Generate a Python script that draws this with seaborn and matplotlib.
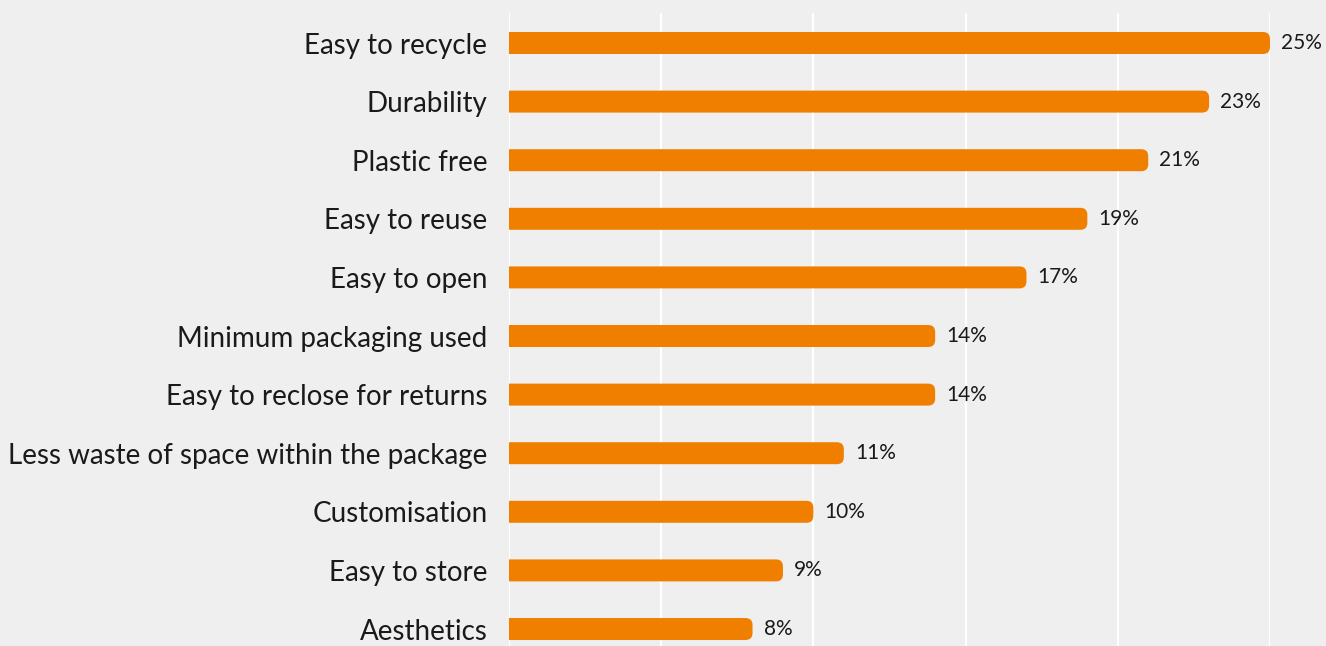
import matplotlib
matplotlib.use("Agg")
import matplotlib.pyplot as plt
from matplotlib.patches import FancyBboxPatch
import seaborn as sns
import pandas as pd

features = [
    "Easy to recycle",
    "Durability",
    "Plastic free",
    "Easy to reuse",
    "Easy to open",
    "Minimum packaging used",
    "Easy to reclose for returns",
    "Less waste of space within the package",
    "Customisation",
    "Easy to store",
    "Aesthetics",
]
shares = [25, 23, 21, 19, 17, 14, 14, 11, 10, 9, 8]
grid_ticks = [0, 5, 10, 15, 20, 25]

ORANGE = "#f07f00"
BG = "#efefef"
TEXT = "#1a1a1a"

sns.set_theme(style="white")
plt.rcParams["font.family"] = ["Lato", "DejaVu Sans"]

W, H = 1326, 646
fig = plt.figure(figsize=(W / 100, H / 100), dpi=100, facecolor=BG)
ax = fig.add_axes([509 / W, 0, (1270 - 509) / W, 633 / H])
ax.set_facecolor(BG)

df = pd.DataFrame({"feature": features, "share": shares})
sns.barplot(data=df, x="share", y="feature", color=ORANGE, saturation=1,
            width=0.375, ax=ax, zorder=3)

ax.set_xlim(0, 25)
ax.set_ylim(10.29, -0.512)
ax.set_xticks(grid_ticks)
ax.set_xticklabels([])
ax.set_xlabel("")
ax.set_ylabel("")
ax.grid(axis="x", color="white", linewidth=1.6, zorder=0)
ax.grid(axis="y", visible=False)
ax.set_axisbelow(True)
for s in ax.spines.values():
    s.set_visible(False)
ax.tick_params(axis="both", length=0)
ax.tick_params(axis="y", pad=15.5, labelsize=20, labelcolor=TEXT)

# swap the flat bars for ones with a rounded right end
fig.canvas.draw()
o = ax.transData.transform((0, 0))
px_x = ax.transData.transform((1, 0))[0] - o[0]
px_y = abs(ax.transData.transform((0, 1))[1] - o[1])
r = 7 / px_x
for p in list(ax.patches):
    x0, y0, w, h = p.get_x(), p.get_y(), p.get_width(), p.get_height()
    fb = FancyBboxPatch((x0 - 2 * r, y0), w + 2 * r, h,
                        boxstyle=f"round,pad=0,rounding_size={r}",
                        mutation_aspect=px_x / px_y,
                        fc=ORANGE, ec="none", zorder=3)
    p.remove()
    ax.add_patch(fb)

for i, v in enumerate(shares):
    ax.annotate(f"{v}%", xy=(v, i), xytext=(8, 0), textcoords="offset points",
                va="center", ha="left", fontsize=15, color=TEXT,
                annotation_clip=False)

fig.savefig("out.png", dpi=100, facecolor=BG)
